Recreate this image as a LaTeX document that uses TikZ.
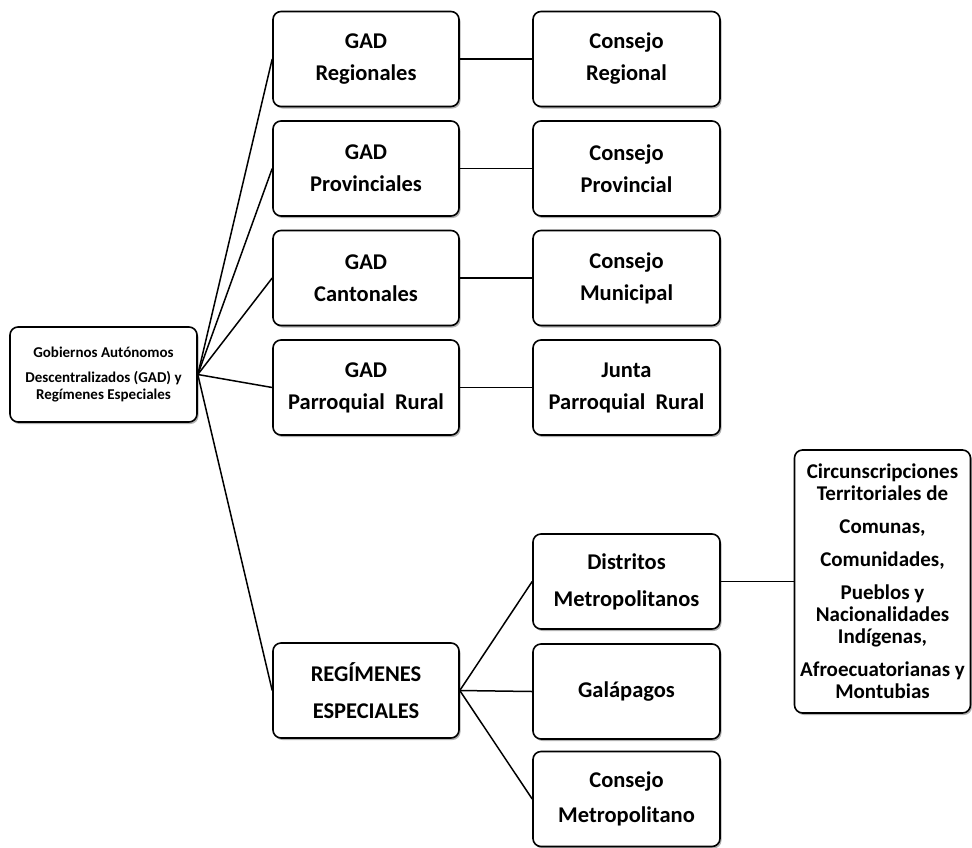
\documentclass[tikz,border=0pt]{standalone}
\usepackage{fontspec}
\setmainfont{Carlito}
\usetikzlibrary{positioning,shadows}

\tikzset{
  box/.style={draw, line width=1.6pt, rounded corners=8pt, fill=white, align=center,
    inner sep=0pt, minimum width=186pt, minimum height=95pt,
    font=\bfseries\fontsize{22.5}{32}\selectfont,
    drop shadow={shadow xshift=1.5pt, shadow yshift=-2pt, fill=black, opacity=0.3}},
  link/.style={line width=1.5pt}
}

\begin{document}
\begin{tikzpicture}[x=1pt,y=-1pt]
  \useasboundingbox (0,0) rectangle (972,847);
  \node[box, minimum width=187pt, font=\bfseries\fontsize{15}{17}\selectfont] (gad) at (103.5,374.5)
    {Gobiernos Autónomos\\[8pt]Descentralizados (GAD) y\\Regímenes Especiales};
  \foreach \n/\y/\a/\b in {reg/59/{GAD\\Regionales}/{Consejo\\Regional},
    prov/168.5/{GAD\\Provinciales}/{Consejo\\Provincial},
    cant/278/{GAD\\Cantonales}/{Consejo\\Municipal},
    parr/387.5/{GAD\\Parroquial~~Rural}/{Junta\\Parroquial~~Rural}}
  {
    \node[box] (g\n) at (366,\y) {\a};
    \node[box, minimum width=187pt] (c\n) at (626.5,\y) {\b};
    \draw[link] (gad.east) -- (g\n.west);
    \draw[link] (g\n) -- (c\n);
  }

  \node[box] (esp) at (366,690.5) {REGÍMENES\\[5pt]ESPECIALES};
  \draw[link] (gad.east) -- (esp.west);
  \foreach \n/\y/\t in {dist/581.5/{Distritos\\[5pt]Metropolitanos},
    gal/691.5/{Galápagos}, cmet/799/{Consejo\\[3pt]Metropolitano}}
  {
    \node[box, minimum width=187pt] (\n) at (626.5,\y) {\t};
    \draw[link] (esp.east) -- (\n.west);
  }

  \node[box, minimum width=176pt, minimum height=263pt, font=\bfseries\fontsize{21}{22}\selectfont]
    (circ) at (882.5,581.5)
    {Circunscripciones\\Territoriales de\\[11pt]Comunas,\\[11pt]Comunidades,\\[11pt]Pueblos y\\Nacionalidades\\Indígenas,\\[11pt]Afroecuatorianas y\\Montubias};
  \draw[link] (dist) -- (circ);
\end{tikzpicture}
\end{document}
